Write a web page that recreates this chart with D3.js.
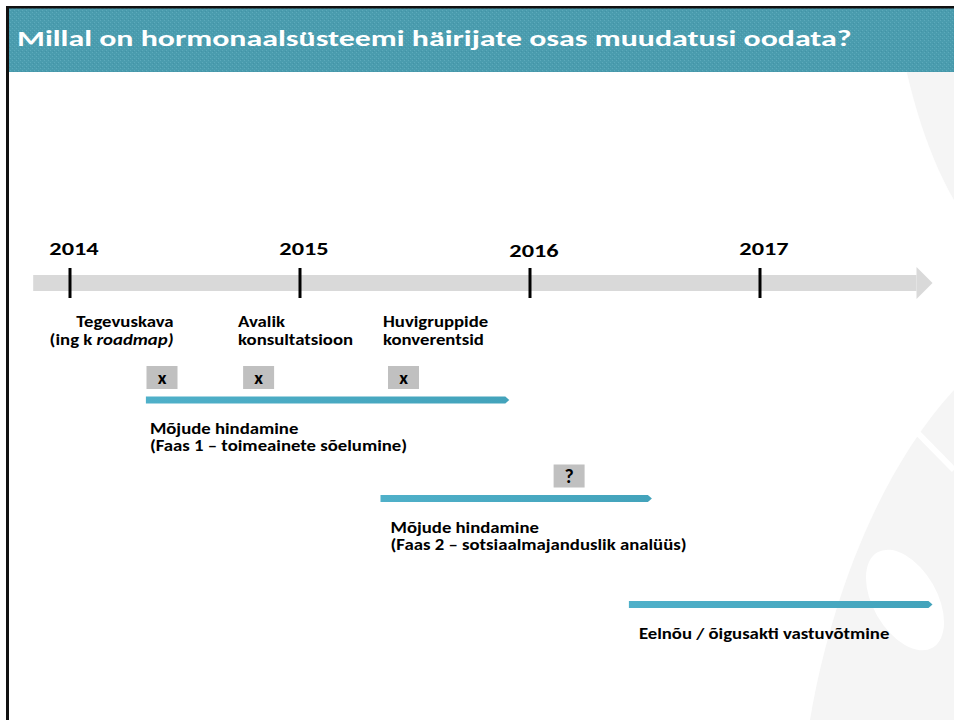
<!DOCTYPE html>
<meta charset="utf-8">
<script src="https://d3js.org/d3.v7.min.js"></script>
<style>
body{margin:0;background:#fff}
svg{display:block}
text{font-family:Carlito,Calibri,Lato,sans-serif;font-weight:bold}
</style>
<div id="chart"></div>
<script>

var title = "Millal on hormonaalsüsteemi häirijate osas muudatusi oodata?"
var years = [2014, 2015, 2016, 2017]

// milestones above the first phase (year fractions)
var milestoneDates = [2014.40, 2014.82, 2015.45]
var milestoneMarks = ["x", "x", "x"]
var milestoneLine1 = ["Tegevuskava", "Avalik", "Huvigruppide"]
var milestoneLine2 = ["(ing k ", "konsultatsioon", "konverentsid"]
var milestoneItalic = ["roadmap)", "", ""]

// open question above phase 2
var pendingDate = 2016.17
var pendingMark = "?"

// phases
var phaseStart = [2014.33, 2015.35, 2016.43]
var phaseEnd = [2015.91, 2016.53, 2017.75]
var phaseLine1 = ["Mõjude hindamine", "Mõjude hindamine", "Eelnõu / õigusakti vastuvõtmine"]
var phaseLine2 = ["(Faas 1 – toimeainete sõelumine)", "(Faas 2 – sotsiaalmajanduslik analüüs)", ""]

var axisStart = 2013.84
var axisEnd = 2017.75

var width = 954, height = 720
var svg = d3.select("#chart").append("svg").attr("width", width).attr("height", height)
var defs = svg.append("defs")

// the slide font is wider than Lato, so widen each line a bit
function stretch(sel, k){
	sel.each(function(){
		var w = this.getComputedTextLength()
		d3.select(this).attr("textLength", w * k).attr("lengthAdjust", "spacingAndGlyphs")
	})
	return sel
}

// header texture
var pat = defs.append("pattern").attr("id", "tex").attr("width", 4).attr("height", 4).attr("patternUnits", "userSpaceOnUse")
pat.append("rect").attr("width", 4).attr("height", 4).attr("fill", "#4a9cae")
pat.append("rect").attr("x", 0).attr("y", 0).attr("width", 1).attr("height", 1).attr("fill", "#5caabb")
pat.append("rect").attr("x", 2).attr("y", 2).attr("width", 1).attr("height", 1).attr("fill", "#5caabb")
pat.append("rect").attr("x", 1).attr("y", 3).attr("width", 1).attr("height", 1).attr("fill", "#4393a6")

var grad = defs.append("linearGradient").attr("id", "barGrad")
grad.append("stop").attr("offset", "0%").attr("stop-color", "#4fb0c9")
grad.append("stop").attr("offset", "100%").attr("stop-color", "#43a3bb")

// faint watermark on the right
var wm = svg.append("g").attr("fill", "#f5f5f5")
wm.append("path").attr("d", "M895,8 C905,80 925,150 954,200 L954,8 Z")
wm.append("path").attr("d", "M810,720 C830,600 880,470 954,390 L954,720 Z")
svg.append("ellipse").attr("cx", 905).attr("cy", 600).attr("rx", 32).attr("ry", 55)
	.attr("transform", "rotate(-30,905,600)").attr("fill", "#fff")
svg.append("line").attr("x1", 900).attr("y1", 415).attr("x2", 954).attr("y2", 470)
	.attr("stroke", "#fff").attr("stroke-width", 6)

// frame and header
svg.append("rect").attr("x", 8).attr("y", 8).attr("width", width - 8).attr("height", 64).attr("fill", "url(#tex)")
svg.append("rect").attr("x", 6).attr("y", 6).attr("width", width - 6).attr("height", 2.5).attr("fill", "#111")
svg.append("rect").attr("x", 6).attr("y", 6).attr("width", 3).attr("height", height - 6).attr("fill", "#111")

stretch(svg.append("text").text(title)
	.attr("x", 17).attr("y", 46)
	.attr("fill", "#fff")
	.style("font-size", "22px"), 1.45)

var x = d3.scaleLinear().domain([2014, 2017]).range([70, 760])

// axis arrow
var axisY = 283
svg.append("rect")
	.attr("x", x(axisStart)).attr("y", axisY - 8)
	.attr("width", x(axisEnd) - 16 - x(axisStart)).attr("height", 16)
	.attr("fill", "#d9d9d9")
svg.append("path")
	.attr("d", d3.line()([[x(axisEnd) - 16, axisY - 16], [x(axisEnd), axisY], [x(axisEnd) - 16, axisY + 16]]) + "Z")
	.attr("fill", "#d9d9d9")

svg.selectAll(".tick").data(years).join("line")
	.attr("x1", d => x(d)).attr("x2", d => x(d))
	.attr("y1", axisY - 15).attr("y2", axisY + 15)
	.attr("stroke", "#000").attr("stroke-width", 3)

stretch(svg.selectAll(".year").data(years).join("text")
	.text(d => d)
	.attr("x", d => x(d) + 4)
	.attr("y", (d, i) => i == 2 ? 257 : 255)
	.attr("text-anchor", "middle")
	.style("font-size", "19px"), 1.28)

// phase bars
var rowY = [400, 498.5, 604.5]
var labelDx = [4, 10, 10]
var barH = 7
var k = 1.25

svg.selectAll(".phase").data(phaseStart).join("path")
	.attr("d", function(d, i){
		var x0 = x(d), x1 = x(phaseEnd[i]), y = rowY[i]
		return d3.line()([[x0, y - barH/2], [x1 - 4, y - barH/2], [x1, y], [x1 - 4, y + barH/2], [x0, y + barH/2]]) + "Z"
	})
	.attr("fill", "url(#barGrad)")

phaseStart.forEach(function(d, i){
	stretch(svg.append("text").text(phaseLine1[i]).style("font-size", "15px")
		.attr("x", x(d) + labelDx[i]).attr("y", rowY[i] + 34), k)
	if(phaseLine2[i]){
		stretch(svg.append("text").text(phaseLine2[i]).style("font-size", "15px")
			.attr("x", x(d) + labelDx[i]).attr("y", rowY[i] + 51), k)
	}
})

// milestone boxes
var boxW = 31, boxH = 23
function drawBox(date, mark, row){
	var cx = x(date), top = rowY[row] - 34
	svg.append("rect").attr("x", cx - boxW/2).attr("y", top).attr("width", boxW).attr("height", boxH).attr("fill", "#c0c0c0")
	svg.append("text").text(mark).attr("x", cx).attr("y", top + 18)
		.attr("text-anchor", "middle").style("font-size", mark == "?" ? "20px" : "19px")
}
milestoneDates.forEach(function(d, i){ drawBox(d, milestoneMarks[i], 0) })
drawBox(pendingDate, pendingMark, 1)

// milestone labels
milestoneDates.forEach(function(d, i){
	var cx = x(d)
	var first = i == 0
	var lx = first ? cx + boxW/2 - 4 : cx - boxW/2 - 5
	var anchor = first ? "end" : "start"
	stretch(svg.append("text").text(milestoneLine1[i]).style("font-size", "15px")
		.attr("text-anchor", anchor).attr("x", lx).attr("y", 327), k)
	var t2 = svg.append("text").style("font-size", "15px")
		.attr("text-anchor", anchor).attr("x", lx).attr("y", 345)
	t2.append("tspan").text(milestoneLine2[i])
	if(milestoneItalic[i]) t2.append("tspan").text(milestoneItalic[i]).style("font-style", "italic")
	stretch(t2, k)
})

</script>
